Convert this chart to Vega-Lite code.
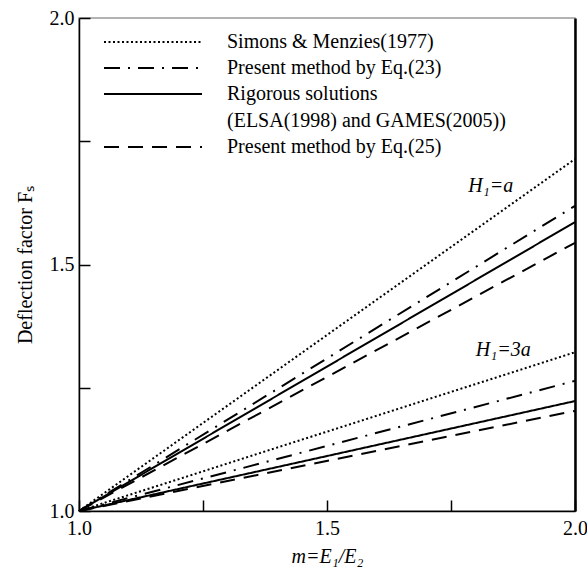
{
  "$schema": "https://vega.github.io/schema/vega-lite/v6.json",
  "width": 496,
  "height": 493,
  "autosize": {"type": "none"},
  "padding": {"left": 79, "top": 18, "right": 12, "bottom": 60},
  "background": "white",
  "config": {
    "view": {"stroke": "#9a9a9a", "strokeWidth": 1.5},
    "font": "Liberation Serif",
    "axis": {
      "labelFont": "Liberation Serif",
      "titleFont": "Liberation Serif",
      "labelFontSize": 20,
      "titleFontSize": 20,
      "labelColor": "black",
      "titleColor": "black",
      "domainColor": "black",
      "tickColor": "black",
      "grid": false,
      "labelFlush": false,
      "titleFontWeight": "normal"
    }
  },
  "resolve": {"axis": {"y": "independent"}},
  "datasets": {
    "curves": [
      {"H": "a", "method": "Simons & Menzies(1977)", "m": 1.0, "F": 1.0},
      {"H": "a", "method": "Simons & Menzies(1977)", "m": 2.0, "F": 1.714},
      {"H": "a", "method": "Present method by Eq.(23)", "m": 1.0, "F": 1.0},
      {"H": "a", "method": "Present method by Eq.(23)", "m": 2.0, "F": 1.619},
      {"H": "a", "method": "Rigorous solutions (ELSA(1998) and  GAMES(2005))", "m": 1.0, "F": 1.0},
      {"H": "a", "method": "Rigorous solutions (ELSA(1998) and  GAMES(2005))", "m": 2.0, "F": 1.586},
      {"H": "a", "method": "Present method by Eq.(25)", "m": 1.0, "F": 1.0},
      {"H": "a", "method": "Present method by Eq.(25)", "m": 2.0, "F": 1.544},
      {"H": "3a", "method": "Simons & Menzies(1977)", "m": 1.0, "F": 1.0},
      {"H": "3a", "method": "Simons & Menzies(1977)", "m": 2.0, "F": 1.322},
      {"H": "3a", "method": "Present method by Eq.(23)", "m": 1.0, "F": 1.0},
      {"H": "3a", "method": "Present method by Eq.(23)", "m": 2.0, "F": 1.264},
      {"H": "3a", "method": "Rigorous solutions (ELSA(1998) and  GAMES(2005))", "m": 1.0, "F": 1.0},
      {"H": "3a", "method": "Rigorous solutions (ELSA(1998) and  GAMES(2005))", "m": 2.0, "F": 1.223},
      {"H": "3a", "method": "Present method by Eq.(25)", "m": 1.0, "F": 1.0},
      {"H": "3a", "method": "Present method by Eq.(25)", "m": 2.0, "F": 1.203}
    ],
    "notes": [
      {"x": 1.785, "y": 1.66, "label": "H₁=a"},
      {"x": 1.80, "y": 1.327, "label": "H₁=3a"}
    ]
  },
  "layer": [
    {
      "data": {"name": "curves"},
      "mark": {"type": "line", "color": "black", "strokeWidth": 2, "strokeCap": "butt"},
      "encoding": {
        "x": {
          "field": "m",
          "type": "quantitative",
          "scale": {"domain": [1, 2], "nice": false, "zero": false},
          "axis": {
            "values": [1, 1.25, 1.5, 1.75, 2],
            "labelExpr": "datum.value == 1.25 || datum.value == 1.75 ? '' : format(datum.value, '.1f')",
            "tickSize": -11,
            "tickWidth": 1.5,
            "domainWidth": 1.5,
            "labelPadding": 18,
            "title": "m=E₁/E₂",
            "titleFontStyle": "italic",
            "titlePadding": 8
          }
        },
        "y": {
          "field": "F",
          "type": "quantitative",
          "scale": {"domain": [1, 2], "nice": false, "zero": false},
          "axis": {
            "values": [1, 1.25, 1.5, 1.75, 2],
            "labelExpr": "datum.value == 1.25 || datum.value == 1.75 ? '' : format(datum.value, '.1f')",
            "tickSize": -11,
            "tickWidth": 1.5,
            "domainWidth": 1.5,
            "labelPadding": 16,
            "title": "Deflection factor  Fₛ",
            "titlePadding": 14
          }
        },
        "strokeDash": {
          "field": "method",
          "type": "nominal",
          "scale": {
            "domain": ["Simons & Menzies(1977)", "Present method by Eq.(23)", "Rigorous solutions (ELSA(1998) and  GAMES(2005))", "Present method by Eq.(25)"],
            "range": [[2, 2.5], [16, 8, 2, 8], [1, 0], [15, 9]]
          },
          "legend": {
            "title": null,
            "orient": "none",
            "legendX": 25,
            "legendY": 8,
            "padding": 0,
            "symbolType": "M-49,6H49",
            "symbolSize": 4,
            "symbolStrokeWidth": 2,
            "symbolStrokeColor": "black",
            "symbolFillColor": "transparent",
            "symbolOffset": 39,
            "labelOffset": 64,
            "labelFont": "Liberation Serif",
            "labelFontSize": 20,
            "labelColor": "black",
            "labelBaseline": "top",
            "labelLimit": 0,
            "rowPadding": 0,
            "labelExpr": "datum.label == 'Rigorous solutions (ELSA(1998) and  GAMES(2005))' ? ['Rigorous solutions', '(ELSA(1998) and  GAMES(2005))'] : datum.label",
            "encode": {"labels": {"update": {"lineHeight": {"value": 27}, "dy": {"value": -4}}}}
          }
        },
        "detail": {"field": "H", "type": "nominal"}
      }
    },
    {
      "data": {"name": "notes"},
      "mark": {"type": "text", "align": "left", "baseline": "middle", "fontStyle": "italic", "fontSize": 20, "font": "Liberation Serif", "color": "black"},
      "encoding": {
        "x": {"field": "x", "type": "quantitative"},
        "y": {
          "field": "y",
          "type": "quantitative",
          "axis": {"orient": "right", "labels": false, "ticks": false, "title": null, "domainWidth": 2.5, "domainColor": "black"}
        },
        "text": {"field": "label"}
      }
    }
  ]
}
